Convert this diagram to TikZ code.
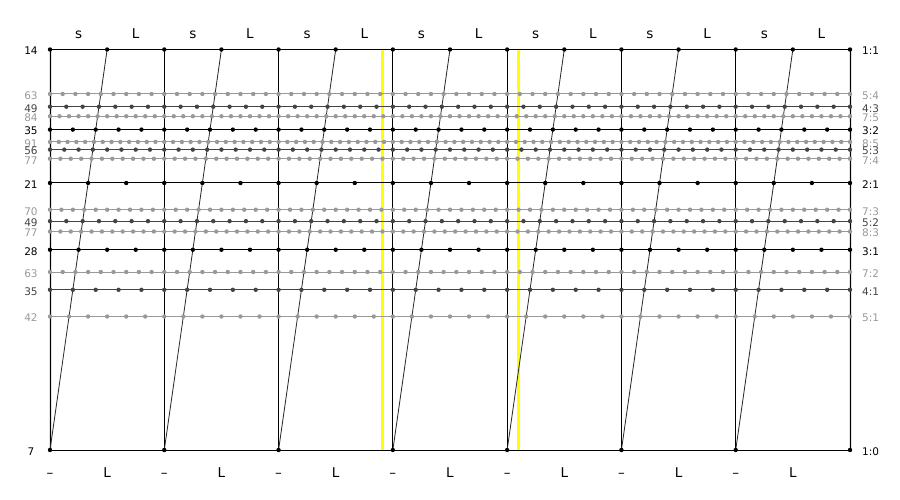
\documentclass[tikz,border=0pt]{standalone}
\usepackage{fontspec}
\setmainfont{DejaVu Sans}
\definecolor{darkrow}{HTML}{444444}
\definecolor{grayrow}{HTML}{999999}
\definecolor{hilite}{HTML}{FFFF00}

\begin{document}
\begin{tikzpicture}[x=1pt,y=-1pt,
  num/.style={font=\fontsize{10.5}{12}\selectfont,inner sep=0pt},
  head/.style={font=\fontsize{13.5}{15}\selectfont,inner sep=0pt,anchor=base},
  slant/.style={draw=black!85,line width=0.8pt}]
 \useasboundingbox (0,0) rectangle (900,500);
 % yellow markers
 \foreach \x in {50,382,518.5,850}
  \draw[hilite,line width=3pt] (\x,49.5) -- (\x,450);
 % columns, slanted lines and column heads
 \foreach \i in {0,...,6}
 {
  \pgfmathsetmacro\cx{50+\i*800/7}
  \draw[line width=1pt] (\cx,49.5) -- (\cx,450);
  \draw[slant] (\cx,450) -- (\cx+400/7,49.5);
  \node[head] (s-\i) at (\cx+200/7,39) {s};
  \node[head] (L-\i) at (\cx+600/7,39) {L};
  \node[head] (d-\i) at (\cx,477) {–};
  \node[head] (l-\i) at (\cx+400/7,477) {L};
 }
 \draw[line width=1pt] (850,49.5) -- (850,450);
 % rows a:b
 \foreach \a/\b/\col in {5/4/grayrow,7/5/grayrow,8/5/grayrow,7/4/grayrow,
   7/3/grayrow,8/3/grayrow,7/2/grayrow,5/1/grayrow,
   4/3/darkrow,5/3/darkrow,5/2/darkrow,4/1/darkrow,
   1/1/black,3/2/black,2/1/black,3/1/black,1/0/black}
 {
  \pgfmathsetmacro\y{49.5+400.5*(\a-\b)/(\a+\b)}
  \pgfmathsetmacro\cnt{int(7*(\a+\b))}
  \draw[\col,line width=1pt] (50,\y) -- (850,\y);
  \foreach \j in {0,...,\cnt}
   \fill[\col] ({50+\j/\cnt*800},\y) circle (2.2pt);
  \node[num,text=\col] (n-\a-\b) at (31,\y+1.5) {\cnt};
  \node[num,text=\col,anchor=west] (r-\a-\b) at (862,\y+1.5) {\a:\b};
 }
\end{tikzpicture}
\end{document}
